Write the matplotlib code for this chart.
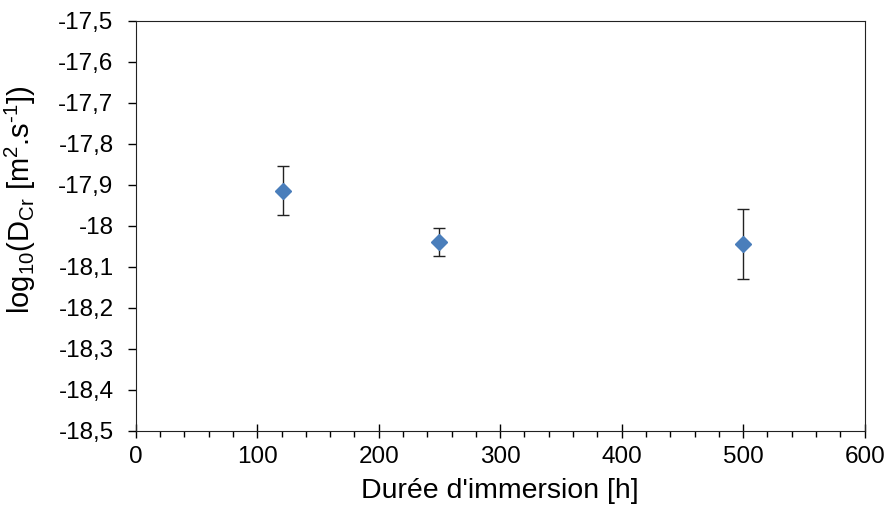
import matplotlib
matplotlib.use("Agg")
import matplotlib.pyplot as plt
from matplotlib.ticker import MultipleLocator, FuncFormatter

plt.rcParams['font.family'] = ['Liberation Sans', 'DejaVu Sans']
plt.rcParams['mathtext.fontset'] = 'custom'
plt.rcParams['mathtext.rm'] = 'Liberation Sans'
plt.rcParams['mathtext.it'] = 'Liberation Sans'

# data
duree = [121, 250, 500]
log_d = [-17.915, -18.040, -18.045]
err = [0.06, 0.035, 0.085]

fig = plt.figure(figsize=(8.9, 5.14), dpi=100)
ax = fig.add_axes([0.1525, 0.162, 0.819, 0.798])

ax.errorbar(duree, log_d, yerr=err, fmt='D', color='#4A7EBB', ms=8,
            ecolor='#222222', elinewidth=1, capsize=4, capthick=1)

ax.set_xlim(0, 600)
ax.set_ylim(-18.5, -17.5)
ax.xaxis.set_major_locator(MultipleLocator(100))
ax.xaxis.set_minor_locator(MultipleLocator(20))
ax.yaxis.set_major_locator(MultipleLocator(0.1))

def virgule(v, pos):
    return ('%g' % round(v, 2)).replace('.', ',')

ax.yaxis.set_major_formatter(FuncFormatter(virgule))
ax.tick_params(axis='x', which='major', direction='inout', length=10, width=1,
               labelsize=17.5, pad=6)
ax.tick_params(axis='x', which='minor', direction='out', length=4, width=1)
ax.tick_params(axis='y', which='major', direction='out', length=6, width=1,
               labelsize=17.5, pad=10)
for s in ax.spines.values():
    s.set_color('#222222')

ax.set_xlabel("Durée d'immersion [h]", fontsize=20.5, labelpad=7)
ax.set_ylabel("log$_{\\mathregular{10}}$(D$_{\\mathregular{Cr}}$ [m$^{\\mathregular{2}}$.s$^{\\mathregular{\u20101}}$])",
              fontsize=21)
ax.yaxis.set_label_coords(-0.134, 0.563)

fig.savefig("out.png", dpi=100)
